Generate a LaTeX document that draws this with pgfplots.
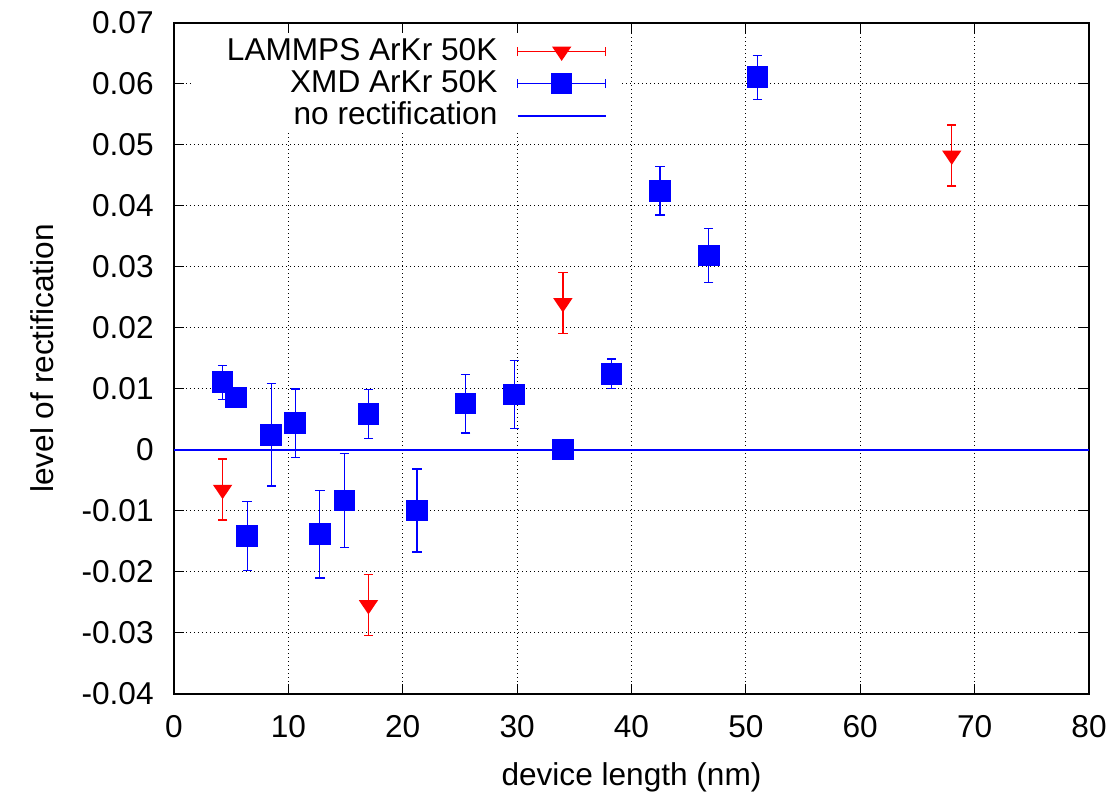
\documentclass[border=0pt]{standalone}
\usepackage{fontspec}
\setmainfont{Liberation Sans}
\usepackage{pgfplots}
\pgfplotsset{compat=1.18}
\usepackage{pgfplotstable}
\usetikzlibrary{calc}

% downward triangle, centred on its centroid
\pgfdeclareplotmark{dtri}{%
  \pgfpathmoveto{\pgfqpoint{0pt}{-4.75pt}}%
  \pgfpathlineto{\pgfqpoint{4.83pt}{2.4pt}}%
  \pgfpathlineto{\pgfqpoint{-4.83pt}{2.4pt}}%
  \pgfpathclose
  \pgfusepathqfill
}

% LAMMPS runs: length (nm), rectification, error
\pgfplotstableread{
x     y        ey
4.25  -0.0065  0.0050
17.0  -0.0254  0.0050
34.0   0.0241  0.0050
68.0   0.0483  0.0050
}\lammps

% XMD runs: length (nm), rectification, error
\pgfplotstableread{
x     y        ey
4.25   0.0111  0.0028
5.4    0.0086  0.0010
6.4   -0.0141  0.0056
8.5    0.0025  0.0084
10.6   0.0044  0.0056
12.75 -0.0138  0.0072
14.9  -0.0083  0.0077
17.0   0.0059  0.0040
21.25 -0.0099  0.0068
25.5   0.0076  0.0048
29.75  0.0091  0.0056
34.0   0.0001  0.0016
38.25  0.0125  0.0024
42.5   0.0425  0.0040
46.75  0.0319  0.0044
51.0   0.0611  0.0036
}\xmd

\begin{document}
\fontsize{15.8}{19}\selectfont
\begin{tikzpicture}
\begin{axis}[
  scale only axis,
  width=457.5pt, height=335.5pt,
  xmin=0, xmax=80, ymin=-0.04, ymax=0.07,
  xtick={0,10,...,80},
  ytick={-0.04,-0.03,-0.02,-0.01,0,0.01,0.02,0.03,0.04,0.05,0.06,0.07},
  scaled y ticks=false,
  /pgf/number format/assume math mode=true,
  yticklabel style={/pgf/number format/fixed, /pgf/number format/precision=2,
    inner xsep=0pt, xshift=-10pt},
  xticklabel style={anchor=base, yshift=-21.65pt},
  tick align=inside,
  major tick length=5pt,
  every tick/.style={black, line width=0.5pt},
  axis line style={black, line width=1pt},
  grid=major,
  major grid style={black, line width=0.5pt, dash pattern=on 0.5pt off 1.5pt},
  xlabel={device length (nm)},
  ylabel={level of rectification},
  every axis x label/.style={at={(axis description cs:0.5,-0.1371)}, anchor=base},
  every axis y label/.style={at={(axis description cs:-0.1322,0.5)}, anchor=base, rotate=90},
  legend plot pos=right,
  legend cell align=right,
  legend style={draw=none, fill=none, at={(axis description cs:0.4732,0.9776)},
    anchor=north east, inner sep=0pt, outer sep=0pt, column sep=9.5pt, row sep=2.6pt,
    nodes={inner sep=0pt}},
]
% opaque key background
\fill[white] (axis cs:1.49,0.0521) rectangle (axis cs:39.0,0.06836);

\addplot[red, only marks, mark=dtri, mark options={fill=red},
  legend image code/.code={
    \draw[red, line width=0.65pt] (0pt,0pt) -- (44pt,0pt)
      (0pt,-2.35pt) -- (0pt,2.35pt) (44pt,-2.35pt) -- (44pt,2.35pt);
    \path plot[mark=dtri, only marks, mark options={fill=red}] coordinates {(22pt,0pt)};
  },
  error bars/.cd, y dir=both, y explicit,
  error bar style={red, line width=0.65pt},
  error mark options={red, rotate=90, mark size=2.35pt, line width=0.65pt}]
  table[x=x, y=y, y error=ey] {\lammps};
\addlegendentry{LAMMPS ArKr 50K}

\addplot[blue, only marks, mark=square*, mark size=5.15pt,
  mark options={fill=blue, draw=blue, line width=0pt},
  legend image code/.code={
    \draw[blue, line width=0.65pt] (0pt,0pt) -- (44pt,0pt)
      (0pt,-2.35pt) -- (0pt,2.35pt) (44pt,-2.35pt) -- (44pt,2.35pt);
    \path plot[mark=square*, mark size=5.15pt, only marks,
      mark options={fill=blue, draw=blue, line width=0pt}] coordinates {(22pt,0pt)};
  },
  error bars/.cd, y dir=both, y explicit,
  error bar style={blue, line width=0.65pt},
  error mark options={blue, rotate=90, mark size=2.35pt, line width=0.65pt}]
  table[x=x, y=y, y error=ey] {\xmd};
\addlegendentry{XMD ArKr 50K}

\addplot[blue, line width=1.3pt, mark=none,
  legend image code/.code={\draw[blue, line width=1.3pt] (0pt,0pt) -- (44pt,0pt);}]
  coordinates {(0,0) (80,0)};
\addlegendentry{no rectification}

\end{axis}
\pgfresetboundingbox
\path ($(current axis.south west)+(-87pt,-50.5pt)$) rectangle ($(current axis.north east)+(14pt,11.5pt)$);
\end{tikzpicture}
\end{document}
